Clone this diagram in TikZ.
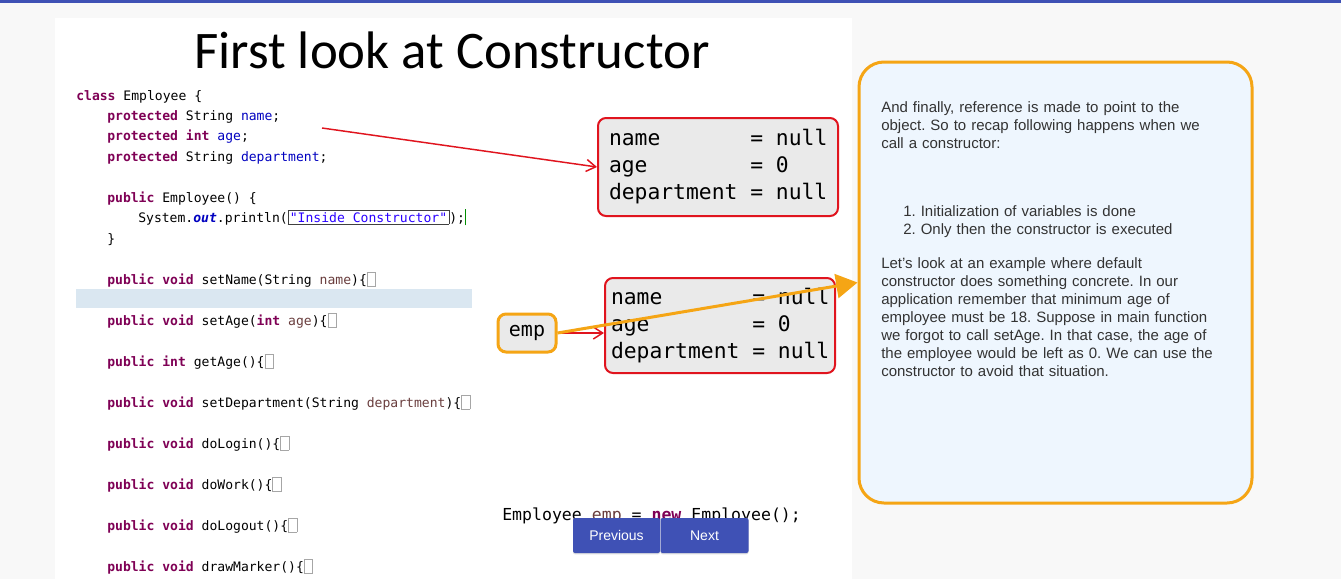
\documentclass[tikz,border=0pt]{standalone}
\usepackage{fontspec}
\setmainfont{Liberation Sans}
\newfontfamily\titlefont{Carlito}
\newfontfamily\codefont{DejaVu Sans Mono}
\usetikzlibrary{arrows.meta,shadows}
\definecolor{pagebg}{HTML}{F8F8F8}
\definecolor{topblue}{HTML}{3F51B5}
\definecolor{kwc}{HTML}{7F0055}
\definecolor{fieldc}{HTML}{0000C0}
\definecolor{paramc}{HTML}{6A3E3E}
\definecolor{strc}{HTML}{2A00FF}
\definecolor{memred}{HTML}{E0141E}
\definecolor{memfill}{HTML}{EAEAEA}
\definecolor{orangec}{HTML}{F5A515}
\definecolor{panelfill}{HTML}{EEF6FE}
\definecolor{hlband}{HTML}{DAE7F1}
\definecolor{textc}{HTML}{333333}
\newcommand{\kw}[1]{\textcolor{kwc}{\bfseries #1}}
\newcommand{\fld}[1]{\textcolor{fieldc}{#1}}
\newcommand{\prm}[1]{\textcolor{paramc}{#1}}
\newcommand{\msp}{\phantom{x}}
\newcommand{\foldmark}{{\fboxsep=0pt\fboxrule=0.4pt\raisebox{-1.5pt}{\fcolorbox{gray!70}{white}{\rule{0pt}{10pt}\hspace{6pt}}}}}
\frenchspacing
\begin{document}
\begin{tikzpicture}[x=0.75pt,y=-0.75pt,
  codeline/.style={anchor=base west,inner sep=0pt,font=\codefont\fontsize{9.8}{12}\selectfont},
  membox/.style={draw=memred,line width=1.5pt,rounded corners=6pt,fill=memfill,align=left,
    text width=163.5pt,font=\codefont\fontsize{16}{20.25}\selectfont,inner ysep=0pt},
  para/.style={anchor=base west,inner sep=0pt,align=left,text width=285pt,text=textc,
    font=\fontsize{11.25}{13.5}\selectfont},
  btn/.style={fill=topblue,text=white,rounded corners=1.5pt,minimum height=26.25pt,
    font=\fontsize{10.5}{12}\selectfont,inner sep=0pt,
    drop shadow={opacity=0.25,shadow xshift=0pt,shadow yshift=-1pt}}]
\useasboundingbox (0,0) rectangle (1341,579);
\fill[pagebg] (0,0) rectangle (1341,579);
\fill[topblue] (0,0) rectangle (1341,2.5);
\fill[white] (55,18) rectangle (852,579);
\fill[hlband] (76,289) rectangle (472,308);

\node[anchor=base,inner sep=0pt,font=\titlefont\fontsize{39.6}{44}\selectfont] (title) at (452,68) {First look at Constructor};

\node[codeline] (c1) at (76,100) {\kw{class} Employee \{};
\node[codeline] (c2) at (107,120) {\kw{protected} String \fld{name};};
\node[codeline] (c3) at (107,140) {\kw{protected} \kw{int} \fld{age};};
\node[codeline] (c4) at (107,161) {\kw{protected} String \fld{department};};
\node[codeline] (c5) at (107,202) {\kw{public} Employee() \{};
\node[codeline] (c6) at (138,222) {System.\textcolor{fieldc}{\bfseries\itshape out}.println({\fboxsep=1pt\fboxrule=0.6pt\fcolorbox{black!75}{white}{\textcolor{strc}{"Inside Constructor"}}});\textcolor{green!55!black}{\rule[-2.5pt]{0.7pt}{12pt}}};
\node[codeline] (c7) at (107,243) {\}};
\node[codeline] (c8) at (107,284) {\kw{public} \kw{void} setName(String \prm{name})\{\foldmark};
\node[codeline] (c9) at (107,325) {\kw{public} \kw{void} setAge(\kw{int} \prm{age})\{\foldmark};
\node[codeline] (c10) at (107,366) {\kw{public} \kw{int} getAge()\{\foldmark};
\node[codeline] (c11) at (107,407) {\kw{public} \kw{void} setDepartment(String \prm{department})\{\foldmark};
\node[codeline] (c12) at (107,448) {\kw{public} \kw{void} doLogin()\{\foldmark};
\node[codeline] (c13) at (107,489) {\kw{public} \kw{void} doWork()\{\foldmark};
\node[codeline] (c14) at (107,530) {\kw{public} \kw{void} doLogout()\{\foldmark};
\node[codeline] (c15) at (107,571) {\kw{public} \kw{void} drawMarker()\{\foldmark};

\node[membox,minimum width=180pt,minimum height=73.5pt,inner xsep=8.25pt] (m1) at (718,167)
  {name\msp\msp\msp\msp\msp\msp\msp=\msp null\\age\msp\msp\msp\msp\msp\msp\msp\msp=\msp 0\\department\msp=\msp null};
\node[membox,minimum width=172.5pt,minimum height=71.25pt,inner xsep=4.5pt] (m2) at (720,325.5)
  {name\msp\msp\msp\msp\msp\msp\msp=\msp null\\age\msp\msp\msp\msp\msp\msp\msp\msp=\msp 0\\department\msp=\msp null};

\node[draw=orangec,line width=2.25pt,rounded corners=6pt,fill=memfill,minimum width=43.5pt,
  minimum height=28.5pt,inner sep=0pt,font=\codefont\fontsize{15}{18}\selectfont] (emp) at (527,333) {emp};

\node[draw=orangec,line width=2.25pt,rounded corners=18.75pt,fill=panelfill,
  minimum width=294.75pt,minimum height=330.75pt] (panel) at (1055.5,282.5) {};

\node[para] (p1) at (881,112) {And finally, reference is made to point to the\\object. So to recap following happens when we\\call a constructor:};
\node[para] (p2) at (903,216) {1.\ Initialization of variables is done\\2.\ Only then the constructor is executed};
\node[para] (p3) at (881,268) {Let\char39 s look at an example where default\\constructor does something concrete. In our\\application remember that minimum age of\\employee must be 18. Suppose in main function\\we forgot to call setAge. In that case, the age of\\the employee would be left as 0. We can use the\\constructor to avoid that situation.};

\coordinate (ptr) at (322,128);
\draw[memred,line width=1.1pt,-{Straight Barb[length=7pt,width=9pt]}] (ptr) -- (m1.west);
\draw[memred,line width=1.1pt,-{Straight Barb[length=7pt,width=9pt]}] (emp.east) -- (emp.east -| m2.west);
\draw[orangec,line width=2.25pt,-{Triangle[length=16pt,width=18pt]}] (emp.east) -- (panel.west);

\node[anchor=base west,inner sep=0pt,font=\codefont\fontsize{12.4}{15}\selectfont] (newcall) at (502,520)
  {Employee \prm{emp} = \kw{new} Employee();};
\node[btn,minimum width=65.25pt] (prev) at (616.5,535.5) {Previous};
\node[btn,minimum width=66pt] (next) at (704.5,535.5) {Next};
\end{tikzpicture}
\end{document}
